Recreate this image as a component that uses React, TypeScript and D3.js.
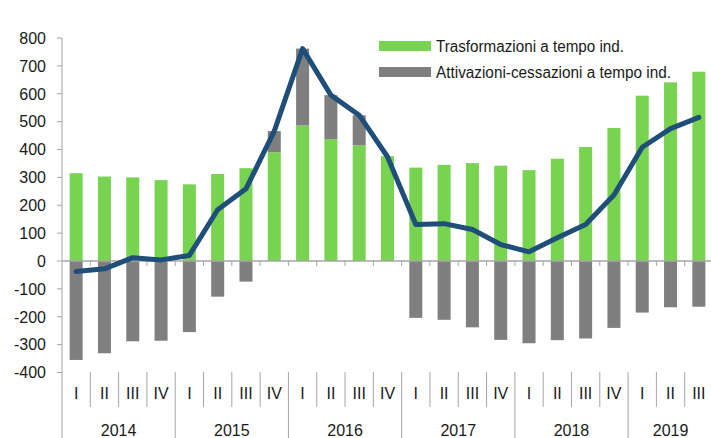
import React, { useEffect, useRef } from 'react';
import * as d3 from 'd3';

const years = ['2014', '2015', '2016', '2017', '2018', '2019'];
const quartersPerYear = [4, 4, 4, 4, 4, 3];
const quarterNames = ['I', 'II', 'III', 'IV'];

const trasformazioni = [315, 303, 300, 290, 275, 312, 333, 390, 486, 437, 415, 376, 335, 345, 351, 342, 326, 367, 409, 477, 593, 641, 679];
const attivazioni = [-355, -331, -288, -286, -255, -128, -74, 76, 276, 158, 108, 0, -204, -211, -238, -283, -295, -284, -278, -240, -185, -166, -164];
const saldo = [-38, -28, 12, 4, 20, 184, 259, 466, 762, 595, 523, 374, 131, 134, 113, 59, 33, 83, 131, 237, 408, 475, 515];

const yTicks = [-400, -300, -200, -100, 0, 100, 200, 300, 400, 500, 600, 700, 800];

const GREEN = '#78d350';
const GRAY = '#7f7f7f';
const LINE = '#1f4e79';
const AXIS = '#a6a6a6';
const FONT = '"Liberation Sans", Arial, sans-serif';

const App: React.FC = () => {
  const ref = useRef<SVGSVGElement | null>(null);

  useEffect(() => {
    if (!ref.current) return;
    const svg = d3.select(ref.current);
    svg.selectAll('*').remove();

    // category keys like 2014-I
    const cats: string[] = [];
    years.forEach((yr, i) => {
      for (let q = 0; q < quartersPerYear[i]; q++) cats.push(`${yr}-${quarterNames[q]}`);
    });

    const x = d3.scaleBand().domain(cats).range([62, 713]).padding(0);
    const step = x.step();
    const bw = 13;
    const bx = (i: number) => x(cats[i])! + (step - bw) / 2;
    const y = d3.scaleLinear().domain([-400, 800]).range([372.5, 38]);

    const g = svg.append('g');

    // bars: green positive, gray stacked on top if positive, below zero if negative
    g.selectAll('.green')
      .data(trasformazioni)
      .enter().append('rect')
      .attr('x', (_, i) => bx(i))
      .attr('y', d => y(d))
      .attr('width', bw)
      .attr('height', d => y(0) - y(d))
      .attr('fill', GREEN);

    g.selectAll('.gray')
      .data(attivazioni)
      .enter().append('rect')
      .attr('x', (_, i) => bx(i))
      .attr('y', (d, i) => (d >= 0 ? y(trasformazioni[i] + d) : y(0)))
      .attr('width', bw)
      .attr('height', d => Math.abs(y(0) - y(d)))
      .attr('fill', GRAY);

    // y axis
    const yAxis = g.append('g').attr('transform', 'translate(62,0)');
    yAxis.append('line')
      .attr('x1', 0).attr('x2', 0).attr('y1', y(800)).attr('y2', 438)
      .attr('stroke', AXIS).attr('stroke-width', 1);
    yTicks.forEach(t => {
      yAxis.append('line')
        .attr('x1', -5).attr('x2', 0).attr('y1', y(t)).attr('y2', y(t))
        .attr('stroke', AXIS);
      yAxis.append('text')
        .attr('x', -16).attr('y', y(t)).attr('dy', '0.36em')
        .attr('text-anchor', 'end')
        .attr('font-family', FONT).attr('font-size', 16)
        .attr('fill', '#1a1a1a')
        .text(t);
    });

    // zero line with ticks
    g.append('line')
      .attr('x1', 62).attr('x2', 713).attr('y1', y(0)).attr('y2', y(0))
      .attr('stroke', AXIS).attr('stroke-width', 1.5);
    cats.forEach((c, i) => {
      if (i === 0) return;
      g.append('line')
        .attr('x1', x(c)!).attr('x2', x(c)!)
        .attr('y1', y(0)).attr('y2', y(0) + 5)
        .attr('stroke', AXIS);
    });

    // line series
    const line = d3.line<number>()
      .x((_, i) => x(cats[i])! + step / 2)
      .y(d => y(d));
    g.append('path')
      .datum(saldo)
      .attr('d', line)
      .attr('fill', 'none')
      .attr('stroke', LINE)
      .attr('stroke-width', 5)
      .attr('stroke-linejoin', 'round')
      .attr('stroke-linecap', 'round');

    // quarter and year labels
    let idx = 0;
    years.forEach((yr, yi) => {
      const start = idx;
      for (let q = 0; q < quartersPerYear[yi]; q++) {
        const c = cats[idx];
        g.append('text')
          .attr('x', x(c)! + step / 2).attr('y', 393).attr('dy', '0.36em')
          .attr('text-anchor', 'middle')
          .attr('font-family', FONT).attr('font-size', 16).attr('fill', '#1a1a1a')
          .text(quarterNames[q]);
        if (q > 0) {
          g.append('line')
            .attr('x1', x(c)!).attr('x2', x(c)!).attr('y1', 372).attr('y2', 407)
            .attr('stroke', AXIS);
        }
        idx++;
      }
      const x0 = x(cats[start])!;
      const x1 = x(cats[idx - 1])! + step;
      g.append('text')
        .attr('x', (x0 + x1) / 2).attr('y', 430).attr('dy', '0.36em')
        .attr('text-anchor', 'middle')
        .attr('font-family', FONT).attr('font-size', 16).attr('fill', '#1a1a1a')
        .text(yr);
      if (yi > 0) {
        g.append('line')
          .attr('x1', x0).attr('x2', x0).attr('y1', 372).attr('y2', 438)
          .attr('stroke', AXIS);
      }
    });

    // legend
    const legend = [
      { label: 'Trasformazioni a tempo ind.', color: GREEN, w: 188 },
      { label: 'Attivazioni-cessazioni a tempo ind.', color: GRAY, w: 235 },
    ];
    legend.forEach((l, i) => {
      const ly = 46 + i * 26;
      g.append('rect')
        .attr('x', 379).attr('y', ly - 5).attr('width', 52).attr('height', 10)
        .attr('fill', l.color);
      g.append('text')
        .attr('x', 436).attr('y', ly).attr('dy', '0.36em')
        .attr('font-family', FONT).attr('font-size', 16).attr('fill', '#1a1a1a')
        .attr('textLength', l.w).attr('lengthAdjust', 'spacingAndGlyphs')
        .text(l.label);
    });
  }, []);

  return (
    <svg
      ref={ref}
      width={711}
      height={438}
      style={{ position: 'absolute', left: 0, top: 0, background: '#fff' }}
    />
  );
};

export default App;
